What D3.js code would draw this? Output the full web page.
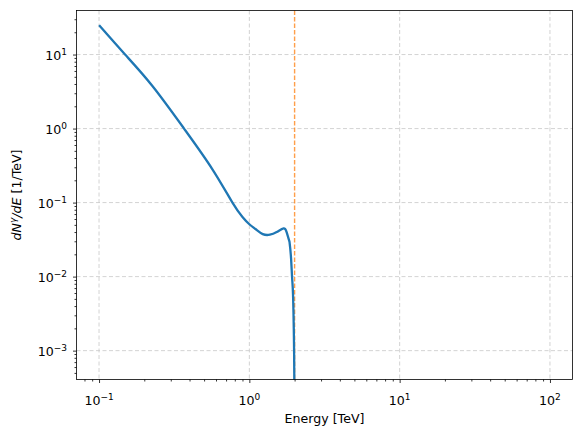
<!DOCTYPE html>
<html lang="en">
<head>
    <meta charset="UTF-8">
    <title>Spectrum</title>
    <script src="https://d3js.org/d3.v7.min.js"></script>
    <style>
        body { margin: 0; background: white; }
        svg text { font-family: "DejaVu Sans", sans-serif; fill: black; }
        .grid line { stroke: #c8c8c8; stroke-width: 0.8; stroke-dasharray: 4,2.5; }
    </style>
</head>
<body>
<svg id="canvas" width="581" height="437"></svg>
<script>
    // values (energy in TeV, dN/dE in 1/TeV)
    const energy = [0.1, 0.149, 0.2265, 0.3677, 0.568, 0.772, 0.9, 1.0, 1.103, 1.228, 1.37, 1.52, 1.69,
        1.77, 1.85, 1.895, 1.923, 1.953, 1.975, 1.99, 2.0];
    const flux = [24.9, 10, 3.76, 1.0, 0.282, 0.1, 0.064, 0.051, 0.0436, 0.0375, 0.0368, 0.040, 0.0448,
        0.040, 0.0295, 0.0176, 0.01, 0.0056, 0.002, 0.0005, 0.00005];
    const cutoff = 2;
    const xTicks = [0.1, 1, 10, 100];
    const xTickExp = ["\u22121", "0", "1", "2"];
    const yTicks = [0.001, 0.01, 0.1, 1, 10];
    const yTickExp = ["\u22123", "\u22122", "\u22121", "0", "1"];

    const pLeft = 76.5, pRight = 572.5, pTop = 10.5, pBottom = 379.5;
    let svg = d3.select('svg');

    const x = d3.scaleLog().domain([10 ** -1.15, 10 ** 2.15]).range([pLeft, pRight]);
    const y = d3.scaleLog().domain([10 ** -3.39, 10 ** 1.595]).range([pBottom, pTop]);

    function minors(scale) {
        const [a, b] = scale.domain();
        let out = [];
        for (let e = -5; e <= 3; e++)
            for (let m = 2; m <= 9; m++) {
                const v = m * 10 ** e;
                if (v >= a && v <= b) out.push(v);
            }
        return out;
    }

    // grid
    const grid = svg.append('g').attr('class', 'grid');
    grid.selectAll('line.gx').data(xTicks).enter().append('line').attr('class', 'gx')
        .attr('x1', d => x(d)).attr('x2', d => x(d)).attr('y1', pTop).attr('y2', pBottom);
    grid.selectAll('line.gy').data(yTicks).enter().append('line').attr('class', 'gy')
        .attr('y1', d => y(d)).attr('y2', d => y(d)).attr('x1', pLeft).attr('x2', pRight);

    svg.append('defs').append('clipPath').attr('id', 'clip')
        .append('rect').attr('x', pLeft).attr('y', pTop).attr('width', pRight - pLeft).attr('height', pBottom - pTop);

    // cutoff line
    svg.append('line')
        .attr('x1', x(cutoff)).attr('x2', x(cutoff)).attr('y1', pTop).attr('y2', pBottom)
        .attr('stroke', '#ff7f0e').attr('stroke-width', 1.4).attr('stroke-dasharray', '4.5,2')
        .attr('opacity', 0.75);

    // spectrum: smooth spline for the body, monotone for the steep drop at the cutoff
    const pts = energy.map((e, i) => [e, flux[i]]);
    const split = energy.indexOf(1.85);
    const body = d3.line().x(d => x(d[0])).y(d => y(d[1])).curve(d3.curveNatural);
    const drop = d3.line().x(d => x(d[0])).y(d => y(d[1])).curve(d3.curveMonotoneX);
    svg.append('path')
        .attr('clip-path', 'url(#clip)')
        .attr('d', body(pts.slice(0, split + 1)) + drop(pts.slice(split)).replace(/^M[^LC]*/, ''))
        .attr('fill', 'none').attr('stroke', '#1f77b4').attr('stroke-width', 2.3)
        .attr('stroke-linejoin', 'round');

    // axes
    svg.append('g').attr('transform', `translate(0,${pBottom})`)
        .call(d3.axisBottom(x).tickValues(xTicks).tickSize(3.5).tickSizeOuter(0).tickFormat(''));
    svg.append('g').attr('transform', `translate(0,${pBottom})`)
        .call(d3.axisBottom(x).tickValues(minors(x)).tickSize(2).tickSizeOuter(0).tickFormat(''));
    svg.append('g').attr('transform', `translate(${pLeft},0)`)
        .call(d3.axisLeft(y).tickValues(yTicks).tickSize(3.5).tickSizeOuter(0).tickFormat(''));
    svg.append('g').attr('transform', `translate(${pLeft},0)`)
        .call(d3.axisLeft(y).tickValues(minors(y)).tickSize(2).tickSizeOuter(0).tickFormat(''));
    svg.selectAll('.tick line').attr('stroke', 'black').attr('stroke-width', 0.8);
    svg.selectAll('.domain').remove();

    // frame
    svg.append('rect').attr('x', pLeft).attr('y', pTop).attr('width', pRight - pLeft).attr('height', pBottom - pTop)
        .attr('fill', 'none').attr('stroke', 'black').attr('stroke-width', 0.8);

    // tick labels as 10^n
    function powLabel(g, exp) {
        g.append('tspan').text('10');
        g.append('tspan').attr('dy', -5).attr('font-size', 9).text(exp);
    }
    xTicks.forEach((t, i) => {
        const txt = svg.append('text').attr('x', x(t)).attr('y', 405)
            .attr('text-anchor', 'middle').attr('font-size', 12.6);
        powLabel(txt, xTickExp[i]);
    });
    yTicks.forEach((t, i) => {
        const txt = svg.append('text').attr('x', 67).attr('y', y(t) + 5)
            .attr('text-anchor', 'end').attr('font-size', 12.6);
        powLabel(txt, yTickExp[i]);
    });

    svg.append('text').attr('x', (pLeft + pRight) / 2).attr('y', 423)
        .attr('text-anchor', 'middle').attr('font-size', 12.6).text('Energy [TeV]');

    const yl = svg.append('text').attr('transform', `translate(21,${(pTop + pBottom) / 2}) rotate(-90)`)
        .attr('text-anchor', 'middle').attr('font-size', 12.6);
    yl.append('tspan').attr('font-style', 'italic').text('dN');
    yl.append('tspan').attr('font-style', 'italic').attr('dy', -5).attr('font-size', 9).text('\u03b3');
    yl.append('tspan').attr('font-style', 'italic').attr('dy', 5).text('/dE');
    yl.append('tspan').text(' [1/TeV]');
</script>
</body>
</html>
